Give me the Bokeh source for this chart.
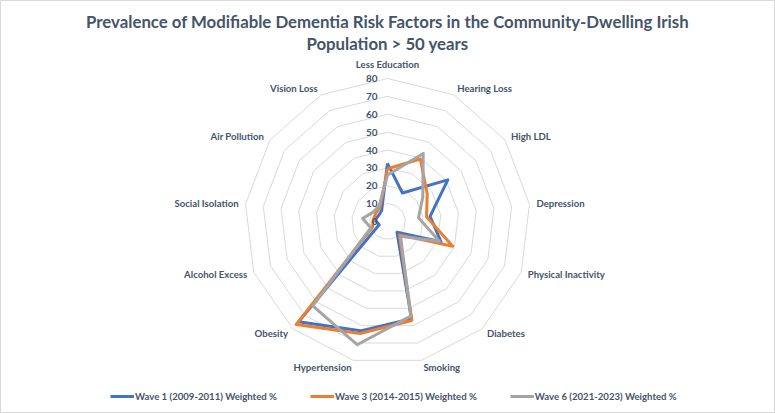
import numpy as np
from bokeh.plotting import figure
from bokeh.models import Range1d, Legend, LegendItem, Label
from bokeh.embed import file_html
from bokeh.resources import INLINE
from bokeh.core.properties import value

# ---------------- data ----------------
categories = ["Less Education", "Hearing Loss", "High LDL", "Depression",
              "Physical Inactivity", "Diabetes", "Smoking", "Hypertension",
              "Obesity", "Alcohol Excess", "Social Isolation", "Air Pollution",
              "Vision Loss"]
wave1 = [32.5, 18, 41, 24, 32, 8, 56, 63, 75, 5, 7, 6, 7]
wave3 = [29.5, 39.5, 27, 22, 39, 10, 57, 64.5, 77, 9, 8, 8, 9]
wave6 = [26, 43, 24, 17.5, 31, 11, 54.5, 71, 63, 10, 14, 9.5, 10]
series_names = ["Wave 1 (2009-2011) Weighted %",
                "Wave 3 (2014-2015) Weighted %",
                "Wave 6 (2021-2023) Weighted %"]
series_colors = ["#4472C4", "#ED7D31", "#A5A5A5"]
ticks = [0, 10, 20, 30, 40, 50, 60, 70, 80]
title_lines = ["Prevalence of Modifiable Dementia Risk Factors in the Community-Dwelling Irish",
               "Population > 50 years"]

# ---------------- layout ----------------
W, H = 775, 413
CX, CY = 387, 221          # centre of radar in pixels from top-left
RMAX = 143.0               # pixel radius for max tick
SCALE = RMAX / max(ticks)
TXT = "#44546A"
FONT = "Lato"
LBL_SIZE = "9.6px"

n = len(categories)
ang = np.arange(n) * 2 * np.pi / n
sx, cy_ = np.sin(ang), np.cos(ang)

p = figure(width=W, height=H, output_backend="svg", toolbar_location=None,
           x_range=Range1d(-CX, W - CX), y_range=Range1d(-(H - CY), CY),
           x_axis_type=None, y_axis_type=None, min_border=0)
p.grid.visible = False
p.outline_line_color = "#D9D9D9"
p.outline_line_width = 1
p.background_fill_color = "white"
p.border_fill_color = "white"

# rings
ring_xs, ring_ys = [], []
for t in ticks[1:]:
    r = t * SCALE
    ring_xs.append(list(np.append(r * sx, r * sx[0])))
    ring_ys.append(list(np.append(r * cy_, r * cy_[0])))
p.multi_line(ring_xs, ring_ys, line_color="#D9D9D9", line_width=1)

# series
renderers = []
for vals, col in zip([wave1, wave3, wave6], series_colors):
    v = np.array(vals, dtype=float) * SCALE
    xs = np.append(v * sx, v[0] * sx[0])
    ys = np.append(v * cy_, v[0] * cy_[0])
    r = p.line(xs, ys, line_color=col, line_width=3, line_join="round")
    renderers.append(r)

# tick labels
p.text(x=[-10] * len(ticks), y=[t * SCALE for t in ticks], text=[str(t) for t in ticks],
       text_align="right", text_baseline="middle", text_font=value(FONT),
       text_font_style="bold", text_font_size="10px", text_color=TXT)

# category labels
LR = 150.0
groups = {"left": [], "right": [], "center": []}
for i, c in enumerate(categories):
    s = sx[i]
    if abs(s) < 1e-6:
        groups["center"].append(i)
    elif s > 0:
        groups["left"].append(i)
    else:
        groups["right"].append(i)
for align, idx in groups.items():
    if not idx:
        continue
    rr = [157.0 if align == "center" else LR for _ in idx]
    p.text(x=[rr[k] * sx[i] for k, i in enumerate(idx)],
           y=[rr[k] * cy_[i] for k, i in enumerate(idx)],
           text=[categories[i] for i in idx],
           text_align=align, text_baseline="middle", text_font=value(FONT),
           text_font_style="bold", text_font_size=LBL_SIZE, text_color=TXT)

# title
for k, line in enumerate(title_lines):
    p.add_layout(Label(x=0, y=CY - 20.7 - 22.7 * k, text=line, text_align="center",
                       text_baseline="middle", text_font=FONT, text_font_style="bold",
                       text_font_size="16.8px", text_color=TXT))

legend = Legend(items=[LegendItem(label=nm, renderers=[r]) for nm, r in zip(series_names, renderers)],
                orientation="horizontal", location=(110, 10), glyph_width=24, glyph_height=14,
                label_height=14, label_standoff=1, spacing=33, padding=0, margin=0,
                border_line_alpha=0, background_fill_alpha=0,
                label_text_font=FONT, label_text_font_style="bold",
                label_text_font_size=LBL_SIZE, label_text_color=TXT)
p.add_layout(legend)

open("out.html", "w").write(file_html(p, INLINE))
